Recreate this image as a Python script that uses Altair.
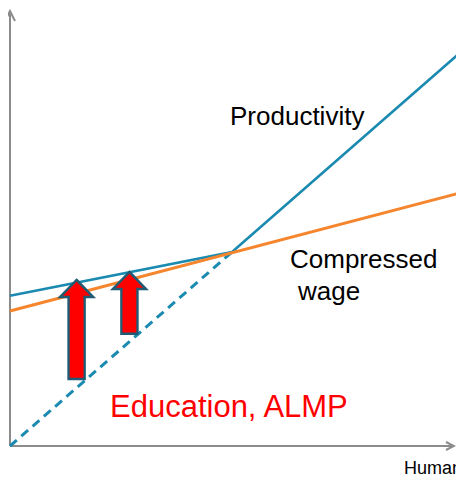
import altair as alt
import pandas as pd

# ---- data (abstract units: x = human capital, y = productivity / wage) ----
prod_x = [0.0, 5.0, 10.2]
prod_y = [3.87, 5.0, 10.2]
dash_x = [0.0, 5.0]
dash_y = [0.0, 5.0]
wage_x = [0.0, 10.2]
wage_y = [3.48, 6.54]

arrow_x = [1.5, 2.69]
arrow_base = [1.73, 2.89]
arrow_tip = [4.28, 4.485]

axis_x_end = 10.0
axis_y_end = 11.21

labels = ["Productivity", "Compressed", "wage", "Education, ALMP", "Human"]
label_x = [4.955, 6.306, 6.486, 2.252, 8.874]
label_y = [8.273, 4.588, 3.763, 0.747, -0.72]

# ---- styling ----
BLUE = "#1A8AB0"
ORANGE = "#F5862E"
GRAY = "#8C8C8C"
RED = "#FF0000"
OUTLINE = "#1F5C74"
FONT = "Liberation Sans"

W, H = 448, 467
xs = alt.Scale(domain=[-0.045, 10.045], nice=False, zero=False, padding=0)
ys = alt.Scale(domain=[-0.7474, 11.2887], nice=False, zero=False, padding=0)


def X(field="x"):
    return alt.X(f"{field}:Q", scale=xs, axis=None)


def Y(field="y"):
    return alt.Y(f"{field}:Q", scale=ys, axis=None)


prod_df = pd.DataFrame({"x": prod_x, "y": prod_y})
dash_df = pd.DataFrame({"x": dash_x, "y": dash_y})
wage_df = pd.DataFrame({"x": wage_x, "y": wage_y})
arrow_df = pd.DataFrame({"x": arrow_x, "base": arrow_base, "tip": arrow_tip})

# axes
xaxis_df = pd.DataFrame({"x": [0.0], "x2": [axis_x_end], "y": [0.0]})
yaxis_df = pd.DataFrame({"x": [0.0], "y": [0.0], "y2": [axis_y_end]})

x_axis = alt.Chart(xaxis_df).mark_rule(color=GRAY, strokeWidth=2).encode(
    x=X(), x2="x2:Q", y=Y())
y_axis = alt.Chart(yaxis_df).mark_rule(color=GRAY, strokeWidth=2).encode(
    x=X(), y=Y(), y2="y2:Q")

chevron = "M-2,-1 L0,0 L-2,1"
x_head = alt.Chart(pd.DataFrame({"x": [axis_x_end], "y": [0.0]})).mark_point(
    shape=chevron, size=64, filled=False, stroke=GRAY, strokeWidth=2, opacity=1
).encode(x=X(), y=Y())
y_head = alt.Chart(pd.DataFrame({"x": [0.0], "y": [axis_y_end]})).mark_point(
    shape=chevron, size=100, filled=False, stroke=GRAY, strokeWidth=2, angle=270, opacity=1
).encode(x=X(), y=Y())

dashed = alt.Chart(dash_df).mark_line(
    color=BLUE, strokeWidth=3, strokeDash=[9, 6], clip=True
).encode(x=X(), y=Y())
prod = alt.Chart(prod_df).mark_line(color=BLUE, strokeWidth=2.5, clip=True).encode(x=X(), y=Y())
wage = alt.Chart(wage_df).mark_line(color=ORANGE, strokeWidth=3, clip=True).encode(x=X(), y=Y())

HEAD_H = 17
shaft_outline = alt.Chart(arrow_df).mark_bar(
    width=16, fill=RED, stroke=OUTLINE, strokeWidth=2.5, y2Offset=HEAD_H
).encode(x=X(), y=Y("base"), y2="tip:Q")
head = alt.Chart(arrow_df).mark_point(
    shape="M0,0 L1,1.03 L-1,1.03 Z", size=1089, filled=True, fill=RED,
    stroke=OUTLINE, strokeWidth=2.5, opacity=1
).encode(x=X(), y=Y("tip"))
shaft_fill = alt.Chart(arrow_df).mark_bar(
    width=13.5, fill=RED, y2Offset=HEAD_H - 3, yOffset=-2
).encode(x=X(), y=Y("base"), y2="tip:Q")


def label(i, size, color):
    df = pd.DataFrame({"x": [label_x[i]], "y": [label_y[i]], "t": [labels[i]]})
    return alt.Chart(df).mark_text(
        align="left", baseline="alphabetic", font=FONT, fontSize=size, color=color
    ).encode(x=X(), y=Y(), text="t:N")


texts = [
    label(0, 26, "#000000"),
    label(1, 26, "#000000"),
    label(2, 26, "#000000"),
    label(3, 31, RED),
    label(4, 18, "#000000"),
]

chart = alt.layer(
    x_axis, y_axis, x_head, y_head, dashed, prod, wage,
    shaft_outline, head, shaft_fill, *texts
).properties(
    width=W, height=H,
    autosize=alt.AutoSizeParams(type="none"),
    padding={"left": 0, "right": 0, "top": 0, "bottom": 0},
).configure_view(stroke=None)

chart.save("out.html", embed_options={"renderer": "svg", "actions": False})
